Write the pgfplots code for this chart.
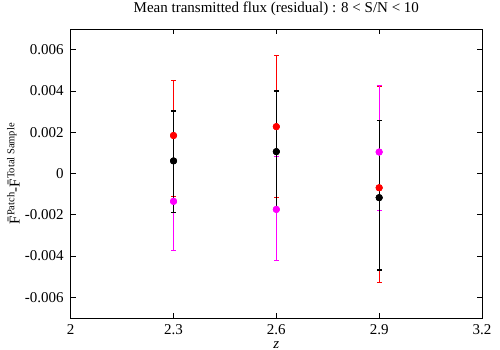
\documentclass[border=0pt]{standalone}
\usepackage{fontspec}
\setmainfont{Liberation Serif}
\usepackage{pgfplots}
\pgfplotsset{compat=1.18}
\usepackage{pgfplotstable}
\definecolor{gpred}{RGB}{255,0,0}
\definecolor{gpmag}{RGB}{255,0,255}

\pgfplotstableread{
x y ep em
2.3 0.00184 0.00265 0.00295
2.6 0.00227 0.00345 0.00344
2.9 -0.00069 0.00490 0.00461
}\tabred
\pgfplotstableread{
x y ep em
2.3 -0.00135 0.00195 0.00240
2.6 -0.00174 0.00257 0.00247
2.9 0.00104 0.00324 0.00283
}\tabmag
\pgfplotstableread{
x y ep em
2.3 0.00061 0.00242 0.00251
2.6 0.00106 0.00294 0.00285
2.9 -0.00117 0.00375 0.00351
}\tabblk

\newcommand{\bigf}{\fontsize{15bp}{18bp}\selectfont}
\begin{document}
\bigf
\begin{tikzpicture}[font=\bigf]
\useasboundingbox (-70.7bp,-32bp) rectangle (429.3bp,318bp);
\begin{axis}[
  at={(0,0)}, anchor=south west,
  width=411.3bp, height=289bp, scale only axis,
  xmin=2, xmax=3.2, ymin=-0.007, ymax=0.007,
  scaled y ticks=false, scaled x ticks=false,
  xtick={2,2.3,2.6,2.9,3.2},
  xticklabels={2,2.3,2.6,2.9,3.2},
  ytick={-0.006,-0.004,-0.002,0,0.002,0.004,0.006},
  yticklabels={-0.006,-0.004,-0.002,0,0.002,0.004,0.006},
  tick align=inside, major tick length=5bp,
  tick style={black, line width=0.8bp},
  axis line style={black, line width=1bp},
  /pgf/number format/assume math mode=true,
  tick label style={font=\bigf},
  label style={font=\bigf},
  title style={font=\bigf},
  title={Mean transmitted flux (residual) : 8 < S/N < 10},
  title style={at={(axis description cs:0.5,1)}, anchor=south, yshift=2bp},
  xlabel={\textit{z}},
  xlabel style={at={(axis description cs:0.5,0)}, anchor=base, yshift=-30bp},
  ylabel={\={F}\textsuperscript{Patch}-\={F}\textsuperscript{Total Sample}},
  ylabel style={yshift=-5bp},
  xticklabel style={yshift=-1bp},
  yticklabel style={xshift=-2bp},
]
\addplot[color=gpred, only marks, mark=*, mark size=3.3bp,
  error bars/.cd, y dir=both, y explicit,
  error bar style={color=gpred, line width=1bp},
  error mark options={color=gpred, rotate=90, mark size=2.4bp, line width=1bp}]
  table[x=x, y=y, y error plus=ep, y error minus=em] {\tabred};
\addplot[color=gpmag, only marks, mark=*, mark size=3.3bp,
  error bars/.cd, y dir=both, y explicit,
  error bar style={color=gpmag, line width=1bp},
  error mark options={color=gpmag, rotate=90, mark size=2.4bp, line width=1bp}]
  table[x=x, y=y, y error plus=ep, y error minus=em] {\tabmag};
\addplot[color=black, only marks, mark=*, mark size=3.3bp,
  error bars/.cd, y dir=both, y explicit,
  error bar style={color=black, line width=1.3bp},
  error mark options={color=black, rotate=90, mark size=2.4bp, line width=1.3bp}]
  table[x=x, y=y, y error plus=ep, y error minus=em] {\tabblk};
\addplot[gpred, only marks, mark=*, mark size=3.3bp, mark options={fill=gpred, draw=gpred}] table[x=x, y=y] {\tabred};
\addplot[gpmag, only marks, mark=*, mark size=3.3bp, mark options={fill=gpmag, draw=gpmag}] table[x=x, y=y] {\tabmag};
\addplot[black, only marks, mark=*, mark size=3.3bp, mark options={fill=black, draw=black}] table[x=x, y=y] {\tabblk};
\end{axis}
\end{tikzpicture}
\end{document}
